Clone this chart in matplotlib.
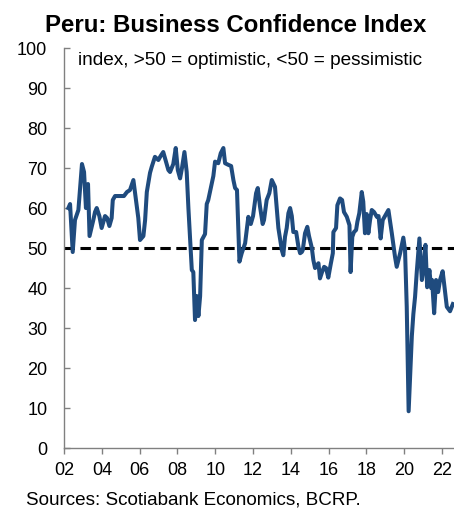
import matplotlib
matplotlib.use("Agg")
import matplotlib.pyplot as plt

plt.rcParams["font.family"] = ["Liberation Sans", "DejaVu Sans"]
plt.rcParams["lines.scale_dashes"] = False

# Business confidence index (decimal year, index level)
dates = [
    2002.23, 2002.32, 2002.46, 2002.58, 2002.76, 2002.95, 2003.06, 2003.16, 2003.27, 2003.35,
    2003.55, 2003.64, 2003.73, 2003.87, 2003.99, 2004.17, 2004.28, 2004.40, 2004.52, 2004.58,
    2004.70, 2004.96, 2005.17, 2005.33, 2005.49, 2005.67, 2005.76, 2005.93, 2006.02, 2006.20,
    2006.29, 2006.38, 2006.55, 2006.64, 2006.81, 2006.99, 2007.11, 2007.25, 2007.40, 2007.52,
    2007.61, 2007.78, 2007.91, 2008.02, 2008.14, 2008.24, 2008.37, 2008.49, 2008.58, 2008.67,
    2008.76, 2008.84, 2008.93, 2009.02, 2009.11, 2009.20, 2009.29, 2009.46, 2009.55, 2009.63,
    2009.81, 2009.90, 2009.99, 2010.16, 2010.29, 2010.43, 2010.52, 2010.69, 2010.84, 2010.96,
    2011.05, 2011.15, 2011.28, 2011.40, 2011.58, 2011.75, 2011.88, 2012.00, 2012.16, 2012.25,
    2012.37, 2012.51, 2012.58, 2012.72, 2012.86, 2012.99, 2013.16, 2013.34, 2013.52, 2013.60,
    2013.69, 2013.78, 2013.87, 2013.96, 2014.05, 2014.13, 2014.28, 2014.40, 2014.49, 2014.58,
    2014.63, 2014.75, 2014.87, 2014.96, 2015.11, 2015.19, 2015.28, 2015.46, 2015.54, 2015.65,
    2015.76, 2015.86, 2015.98, 2016.11, 2016.22, 2016.25, 2016.39, 2016.46, 2016.60, 2016.71,
    2016.81, 2016.96, 2017.10, 2017.16, 2017.25, 2017.34, 2017.45, 2017.52, 2017.62, 2017.75,
    2017.83, 2017.92, 2018.01, 2018.10, 2018.19, 2018.28, 2018.40, 2018.55, 2018.64, 2018.75,
    2018.86, 2018.98, 2019.16, 2019.34, 2019.51, 2019.60, 2019.78, 2019.95, 2020.04, 2020.13,
    2020.23, 2020.40, 2020.48, 2020.57, 2020.66, 2020.80, 2020.93, 2021.01, 2021.12, 2021.21,
    2021.33, 2021.42, 2021.47, 2021.58, 2021.68, 2021.79, 2021.89, 2022.03, 2022.11, 2022.25,
    2022.42, 2022.57,
]
confidence = [
    60.0, 61.0, 49.0, 57.0, 59.5, 71.0, 69.0, 60.0, 66.0, 53.0,
    57.0, 59.0, 60.0, 58.0, 55.0, 58.0, 57.5, 55.5, 57.5, 62.0,
    63.0, 63.0, 63.0, 64.0, 64.5, 67.0, 63.7, 57.5, 52.0, 53.0,
    57.0, 64.0, 68.8, 70.3, 72.8, 72.0, 73.0, 74.0, 71.5, 69.5,
    69.0, 71.0, 75.0, 69.5, 67.4, 70.0, 74.0, 69.0, 60.0, 52.0,
    44.5, 44.0, 32.0, 38.0, 33.0, 38.0, 52.0, 53.5, 61.0, 62.0,
    66.0, 68.0, 71.6, 71.2, 73.7, 75.0, 71.2, 70.8, 70.5, 67.0,
    65.0, 64.5, 46.6, 48.7, 51.2, 57.8, 56.0, 58.0, 63.7, 65.0,
    60.3, 56.0, 57.0, 62.0, 63.7, 67.0, 65.3, 55.0, 49.5, 48.2,
    52.8, 55.0, 58.7, 60.0, 58.0, 54.0, 54.0, 50.3, 48.7, 49.0,
    49.5, 53.7, 55.3, 53.0, 50.0, 47.0, 45.0, 46.2, 42.4, 44.0,
    45.3, 45.0, 42.6, 46.0, 48.7, 54.0, 55.0, 60.7, 62.4, 62.0,
    59.0, 57.8, 55.7, 44.0, 52.8, 54.0, 54.5, 56.6, 58.7, 64.0,
    61.6, 53.7, 58.5, 53.7, 57.0, 59.5, 59.0, 57.8, 58.0, 52.4,
    57.0, 58.0, 59.5, 53.7, 47.8, 45.3, 48.7, 52.6, 49.5, 35.3,
    9.2, 28.0, 33.5, 37.8, 44.0, 52.4, 42.0, 44.5, 50.8, 40.2,
    44.5, 40.0, 42.0, 33.7, 42.0, 39.0, 42.0, 44.2, 41.0, 35.3,
    34.2, 36.0,
]

threshold = 50
y_ticks = list(range(0, 101, 10))
x_ticks = list(range(2002, 2023, 2))
x_tick_labels = ["02", "04", "06", "08", "10", "12", "14", "16", "18", "20", "22"]

title = "Peru: Business Confidence Index"
subtitle = "index, >50 = optimistic, <50 = pessimistic"
source = "Sources: Scotiabank Economics, BCRP."

fig = plt.figure(figsize=(4.54, 5.08), dpi=100)
ax = fig.add_axes([0.141, 0.118, 0.859, 0.7875])

ax.axhline(threshold, color="black", lw=2.2, dashes=(7.5, 4.0), zorder=2)
ax.plot(dates, confidence, color="#1f4b7e", lw=2.9, solid_joinstyle="round", zorder=3)

ax.set_xlim(2002, 2022.63)
ax.set_ylim(0, 100)
ax.set_yticks(y_ticks)
ax.set_xticks(x_ticks)
ax.set_xticklabels(x_tick_labels)

for side in ("top", "right"):
    ax.spines[side].set_visible(False)
for side in ("left", "bottom"):
    ax.spines[side].set_color("#808080")
    ax.spines[side].set_linewidth(1.0)

ax.tick_params(axis="y", direction="in", length=4, width=1.0, color="#808080",
               labelsize=13, pad=12)
ax.tick_params(axis="x", direction="out", length=4, width=1.0, color="#808080",
               labelsize=13, pad=6)

ax.text(0.035, 0.99, subtitle, transform=ax.transAxes, ha="left", va="top", fontsize=13.65)

fig.text(0.519, 0.949, title, ha="center", va="center", fontsize=17.3, fontweight="bold")
fig.text(0.058, 0.015, source, ha="left", va="center", fontsize=13.6)

fig.savefig("out.png", dpi=100)
